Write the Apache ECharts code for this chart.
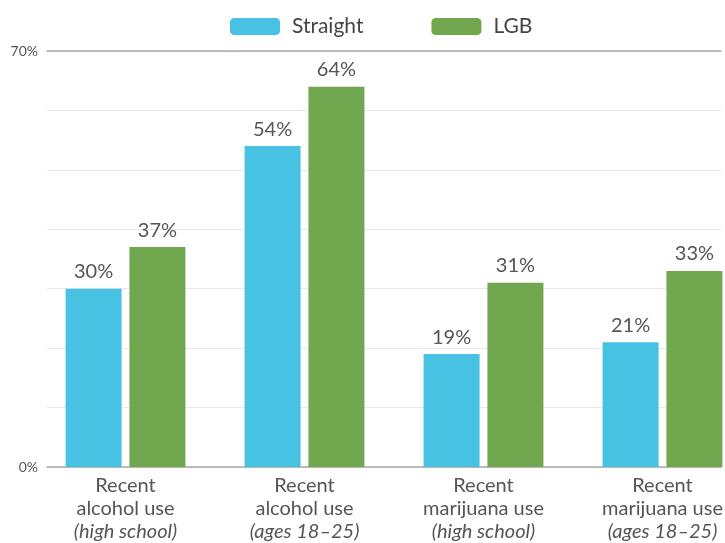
<!DOCTYPE html>
<html>
<head>
<meta charset="utf-8">
<script src="https://cdn.jsdelivr.net/npm/echarts@6/dist/echarts.min.js"></script>
<style>
  html, body { margin: 0; padding: 0; background: #fff; }
  #chart { width: 725px; height: 543px; }
</style>
</head>
<body>
<div id="chart"></div>
<script>
// chart data
var categories = ['alcohol use', 'alcohol use', 'marijuana use', 'marijuana use']
var groups = ['(high school)', '(ages 18–25)', '(high school)', '(ages 18–25)']
var straight = [30, 54, 19, 21]
var lgb = [37, 64, 31, 33]
var yTicks = [0, 70]

var blue = '#48c2e3'
var green = '#71a84f'
var textColor = '#555'

var labels = categories.map(function (c, i) {
  return 'Recent\n' + c + '\n{i|' + groups[i] + '}'
})

var chart = echarts.init(document.getElementById('chart'), null, {renderer: 'canvas'})

var valueLabel = {
  show: true,
  position: 'top',
  distance: 7,
  fontFamily: 'Lato',
  fontSize: 20,
  color: textColor,
  formatter: '{c}%'
}

chart.setOption({
  animation: false,
  textStyle: {fontFamily: 'Lato'},
  legend: {
    top: 11,
    left: 225,
    itemWidth: 50,
    itemHeight: 17,
    itemGap: 68,
    textStyle: {fontFamily: 'Lato', fontSize: 21, color: '#444', padding: [0, 0, 0, 7]},
    data: ['Straight', 'LGB']
  },
  grid: [
    // bars, wider than the canvas on the right
    {left: 36, width: 716, top: 51, bottom: 76, containLabel: false, outerBoundsMode: 'none'},
    // gridlines + y labels
    {left: 47, right: 4, top: 51, bottom: 76, containLabel: false, outerBoundsMode: 'none'}
  ],
  xAxis: [
    {
      type: 'category',
      gridIndex: 0,
      data: labels,
      axisLine: {show: false},
      axisTick: {show: false},
      axisLabel: {
        interval: 0,
        margin: 7,
        fontFamily: 'Lato',
        fontSize: 20,
        lineHeight: 23,
        color: textColor,
        rich: {
          i: {fontFamily: 'Lato', fontSize: 20, lineHeight: 23, fontStyle: 'italic', color: textColor}
        }
      }
    },
    {
      type: 'category', gridIndex: 1, position: 'bottom', data: labels,
      axisLine: {show: true, lineStyle: {color: '#a8a8a8', width: 1.5}},
      axisTick: {show: false}, axisLabel: {show: false}
    },
    {
      type: 'category', gridIndex: 1, position: 'top', data: labels,
      axisLine: {show: true, lineStyle: {color: '#a8a8a8', width: 1.5}},
      axisTick: {show: false}, axisLabel: {show: false}
    }
  ],
  yAxis: [
    {
      type: 'value', gridIndex: 0, min: 0, max: 70, interval: 10,
      axisLine: {show: false}, axisTick: {show: false},
      axisLabel: {show: false}, splitLine: {show: false}
    },
    {
      type: 'value', gridIndex: 1, min: 0, max: 70, interval: 10,
      axisLine: {show: false}, axisTick: {show: false},
      splitLine: {show: true, lineStyle: {color: '#e8e8e8', width: 1}},
      axisLabel: {
        margin: 9,
        fontFamily: 'Lato',
        fontSize: 14,
        color: textColor,
        formatter: function (v) { return yTicks.indexOf(v) >= 0 ? v + '%' : '' }
      }
    }
  ],
  series: [
    {
      name: 'Straight', type: 'bar', xAxisIndex: 0, yAxisIndex: 0,
      data: straight, barWidth: 56, barGap: '14%',
      itemStyle: {color: blue},
      label: valueLabel
    },
    {
      name: 'LGB', type: 'bar', xAxisIndex: 0, yAxisIndex: 0,
      data: lgb, barWidth: 56,
      itemStyle: {color: green},
      label: valueLabel
    }
  ]
})
</script>
</body>
</html>
